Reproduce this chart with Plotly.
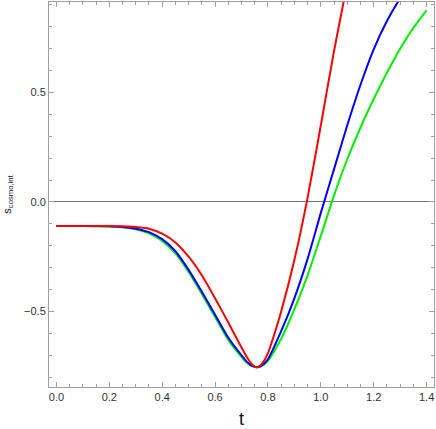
import plotly.graph_objects as go

# values
t_red = [0.0, 0.1, 0.2, 0.25, 0.3, 0.35, 0.4, 0.45, 0.5, 0.55, 0.6, 0.65, 0.7,
         0.72, 0.74, 0.76, 0.78, 0.8, 0.82, 0.85, 0.9, 0.95, 1.0, 1.05, 1.1]
s_red = [-0.11, -0.11, -0.11, -0.111, -0.114, -0.122, -0.145, -0.185, -0.25,
         -0.335, -0.44, -0.55, -0.665, -0.708, -0.742, -0.755, -0.735, -0.69,
         -0.62, -0.50, -0.265, 0.02, 0.35, 0.69, 1.0]

t_blue = [0.0, 0.1, 0.2, 0.25, 0.3, 0.35, 0.4, 0.45, 0.5, 0.55, 0.6, 0.65, 0.7,
          0.72, 0.74, 0.76, 0.78, 0.8, 0.85, 0.9, 0.95, 1.0, 1.05, 1.1, 1.15,
          1.2, 1.25, 1.3, 1.35]
s_blue = [-0.11, -0.11, -0.111, -0.114, -0.122, -0.138, -0.17, -0.225, -0.31,
          -0.41, -0.515, -0.62, -0.70, -0.729, -0.749, -0.755, -0.744, -0.718,
          -0.59, -0.44, -0.26, -0.05, 0.15, 0.35, 0.535, 0.697, 0.826, 0.93,
          1.02]

t_green = [0.0, 0.1, 0.2, 0.25, 0.3, 0.35, 0.4, 0.45, 0.5, 0.55, 0.6, 0.65,
           0.7, 0.72, 0.74, 0.76, 0.78, 0.8, 0.85, 0.9, 0.95, 1.0, 1.05, 1.1,
           1.15, 1.2, 1.25, 1.3, 1.35, 1.4]
s_green = [-0.11, -0.11, -0.112, -0.116, -0.125, -0.143, -0.178, -0.235, -0.32,
           -0.42, -0.525, -0.63, -0.708, -0.734, -0.75, -0.755, -0.747, -0.726,
           -0.625, -0.49, -0.335, -0.155, 0.03, 0.195, 0.34, 0.47, 0.59, 0.70,
           0.795, 0.875]

fig = go.Figure()

# green first so blue and red sit on top like in the reference
for t, s, col in [(t_green, s_green, "#00ee00"),
                  (t_blue, s_blue, "#0000ff"),
                  (t_red, s_red, "#ff0000")]:
    fig.add_trace(go.Scatter(
        x=t, y=s, mode="lines",
        line=dict(color=col, width=2, shape="spline", smoothing=0.6),
        showlegend=False, hoverinfo="skip"
    ))

frame = "#a0a0a0"
tickfont = dict(family="Liberation Sans, Arial", size=11, color="#333333")

fig.update_layout(
    width=436, height=429,
    margin=dict(l=49, r=2, t=2, b=42),
    paper_bgcolor="white", plot_bgcolor="white",
    font=dict(family="Liberation Sans, Arial", color="#222222"),
)

fig.update_xaxes(
    range=[-0.028, 1.428],
    showgrid=False, zeroline=False,
    showline=True, linecolor=frame, linewidth=1, mirror="allticks",
    ticks="inside", ticklen=5, tickcolor=frame, tickwidth=1,
    tickvals=[0, 0.2, 0.4, 0.6, 0.8, 1.0, 1.2, 1.4],
    ticktext=["0.0", "0.2", "0.4", "0.6", "0.8", "1.0", "1.2", "1.4"],
    tickfont=tickfont,
    minor=dict(dtick=0.05, tick0=0, ticks="inside", ticklen=3,
               tickcolor=frame, showgrid=False),
    title=dict(text="t", font=dict(size=18, color="#111111"), standoff=10),
)

fig.update_yaxes(
    range=[-0.845, 0.913],
    showgrid=False,
    zeroline=True, zerolinecolor="#777777", zerolinewidth=1.4,
    showline=True, linecolor=frame, linewidth=1, mirror="allticks",
    ticks="inside", ticklen=5, tickcolor=frame, tickwidth=1,
    tickvals=[-0.5, 0.0, 0.5],
    ticktext=["\u22120.5", "0.0", "0.5"],
    tickfont=tickfont,
    minor=dict(dtick=0.1, tick0=0, ticks="inside", ticklen=3,
               tickcolor=frame, showgrid=False),
    title=dict(text="s<sub>cosmo,int</sub>",
               font=dict(size=11, color="#111111"), standoff=10),
)

# drop the page's default body margin so the figure sits at the top-left
fig.write_html("out.html", config={"displayModeBar": False},
               post_script="document.body.style.margin='0';")
